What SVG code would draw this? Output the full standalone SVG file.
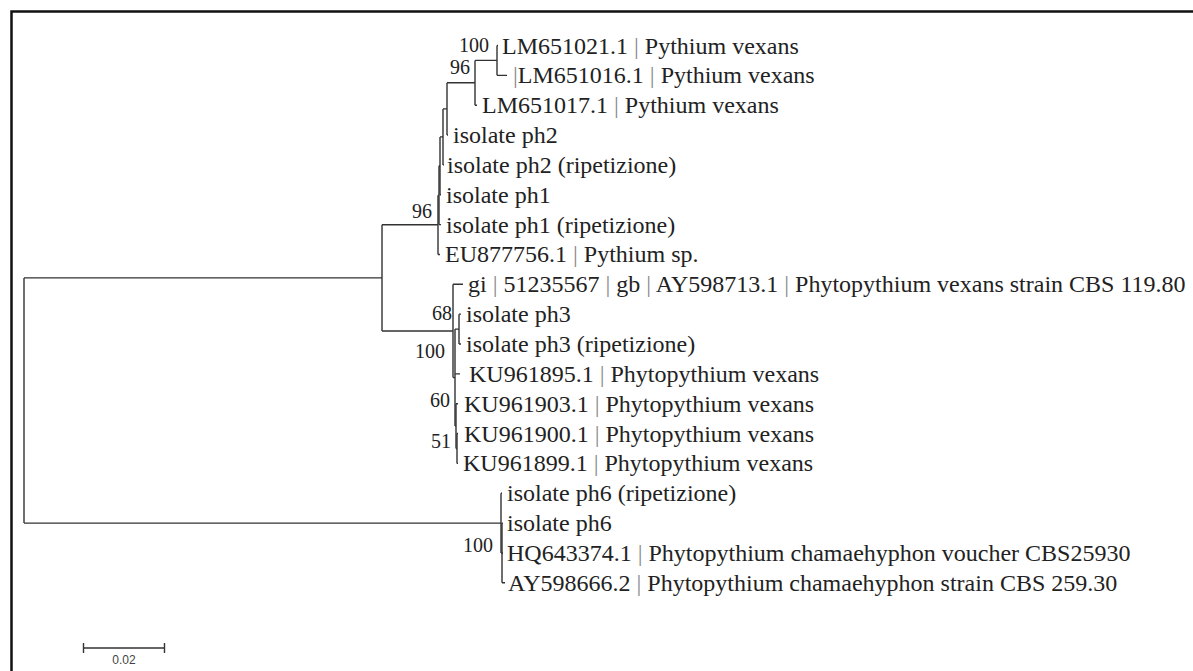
<svg xmlns="http://www.w3.org/2000/svg" width="1193" height="671" viewBox="0 0 1193 671">
<style>
.tx{font-family:"Liberation Serif","Times New Roman",serif;font-size:24px;fill:#222}
.sp{fill:#888}
.bs{font-family:"Liberation Serif","Times New Roman",serif;font-size:20px;fill:#222;text-anchor:end}
.br{fill:none;stroke:#333;stroke-width:1.4}
.sc{font-family:"Liberation Sans",Arial,sans-serif;font-size:12px;fill:#444;text-anchor:middle}
</style>
<rect x="0" y="0" width="1193" height="671" fill="#fff"/>
<path d="M11.5,671 V11.5 H1193" fill="none" stroke="#111" stroke-width="2.5"/>
<g id="connectors" class="br">
<path d="M24,277.9 V523.1 M24,277.9 H382 M24,523.1 H501"/>
<path d="M382,224.8 V331 M382,224.8 H438 M382,331 H453"/>
<path d="M438,195.2 V254.45 M438,254.45 H440 M438,195.2 H439"/>
<path d="M439,165.8 V224.6 M439,224.6 H441 M439,165.8 H440"/>
<path d="M440,136.9 V194.75 M440,194.75 H441 M440,136.9 H443"/>
<path d="M443,108.9 V164.9 M443,164.9 H444 M443,108.9 H447"/>
<path d="M447,82.8 V135.05 M447,135.05 H448 M447,82.8 H475"/>
<path d="M475,60.4 V105.2 M475,105.2 H477 M475,60.4 H497"/>
<path d="M497,45.5 V75.35 M497,45.5 H498 M497,75.35 H507"/>
<path d="M453,284.3 V377.6 M453,284.3 H463 M453,377.6 H455"/>
<path d="M455,329.1 V426.1 M455,329.1 H459 M455,373.85 H460 M455,426.1 H456"/>
<path d="M459,314.15 V344 M459,314.15 H461 M459,344 H461"/>
<path d="M456,403.7 V448.5 M456,403.7 H458 M456,448.5 H457"/>
<path d="M457,433.55 V463.4 M457,433.55 H458 M457,463.4 H458"/>
<path d="M501,493.25 V553 M501,493.25 H502 M501,553 H502"/>
<path d="M502,523.1 V582.8 M502,523.1 H503 M502,552.95 H503 M502,582.8 H505"/>
</g>
<g id="bootstrap">
<text class="bs" x="489" y="51.5">100</text>
<text class="bs" x="470" y="74">96</text>
<text class="bs" x="432" y="218">96</text>
<text class="bs" x="452" y="320">68</text>
<text class="bs" x="445" y="358">100</text>
<text class="bs" x="450" y="407">60</text>
<text class="bs" x="451" y="448">51</text>
<text class="bs" x="493" y="552">100</text>
</g>
<g id="tip-LM651021"><text class="tx" x="502" y="53.5">LM651021.1 <tspan class="sp">|</tspan> Pythium vexans</text></g>
<g id="tip-LM651016"><text class="tx" x="513" y="83.4"><tspan class="sp">|</tspan>LM651016.1 <tspan class="sp">|</tspan> Pythium vexans</text></g>
<g id="tip-LM651017"><text class="tx" x="482" y="113.2">LM651017.1 <tspan class="sp">|</tspan> Pythium vexans</text></g>
<g id="tip-ph2"><text class="tx" x="453" y="143">isolate ph2</text></g>
<g id="tip-ph2-rip"><text class="tx" x="447" y="172.9">isolate ph2 (ripetizione)</text></g>
<g id="tip-ph1"><text class="tx" x="446" y="202.7">isolate ph1</text></g>
<g id="tip-ph1-rip"><text class="tx" x="446" y="232.6">isolate ph1 (ripetizione)</text></g>
<g id="tip-EU877756"><text class="tx" x="445" y="262.4">EU877756.1 <tspan class="sp">|</tspan> Pythium sp.</text></g>
<g id="tip-AY598713"><text class="tx" x="468" y="292.3">gi <tspan class="sp">|</tspan> 51235567 <tspan class="sp">|</tspan> gb <tspan class="sp">|</tspan> AY598713.1 <tspan class="sp">|</tspan> Phytopythium vexans strain CBS 119.80</text></g>
<g id="tip-ph3"><text class="tx" x="466" y="322.1">isolate ph3</text></g>
<g id="tip-ph3-rip"><text class="tx" x="466" y="352">isolate ph3 (ripetizione)</text></g>
<g id="tip-KU961895"><text class="tx" x="469" y="381.8">KU961895.1 <tspan class="sp">|</tspan> Phytopythium vexans</text></g>
<g id="tip-KU961903"><text class="tx" x="464" y="411.7">KU961903.1 <tspan class="sp">|</tspan> Phytopythium vexans</text></g>
<g id="tip-KU961900"><text class="tx" x="464" y="441.5">KU961900.1 <tspan class="sp">|</tspan> Phytopythium vexans</text></g>
<g id="tip-KU961899"><text class="tx" x="463" y="471.4">KU961899.1 <tspan class="sp">|</tspan> Phytopythium vexans</text></g>
<g id="tip-ph6-rip"><text class="tx" x="507" y="501.2">isolate ph6 (ripetizione)</text></g>
<g id="tip-ph6"><text class="tx" x="507" y="531.1">isolate ph6</text></g>
<g id="tip-HQ643374"><text class="tx" x="507" y="561">HQ643374.1 <tspan class="sp">|</tspan> Phytopythium chamaehyphon voucher CBS25930</text></g>
<g id="tip-AY598666"><text class="tx" x="508" y="590.8">AY598666.2 <tspan class="sp">|</tspan> Phytopythium chamaehyphon strain CBS 259.30</text></g>
<g id="scale-bar">
<path d="M83.5,648 H164.5 M83.5,643 V653 M164.5,643 V653" fill="none" stroke="#333" stroke-width="1.4"/>
<text class="sc" x="124" y="664">0.02</text>
</g>
</svg>
